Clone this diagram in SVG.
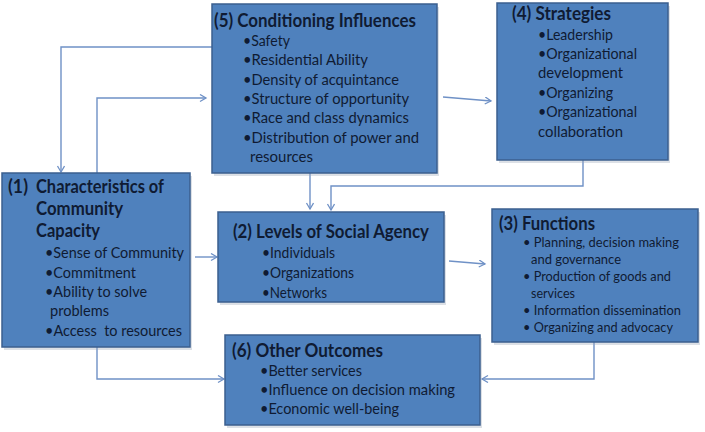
<svg xmlns="http://www.w3.org/2000/svg" width="705" height="432" viewBox="0 0 705 432">
<defs>
<style>
.box{fill:#4f81bd;stroke:#3b5f8f;stroke-width:1.5}
.sh{fill:#9aa6b8;opacity:0.35}
.t{font-family:Lato,"Liberation Sans",Arial,sans-serif;font-weight:bold;font-size:18px;fill:#0f1b33}
.b{font-family:Lato,"Liberation Sans",Arial,sans-serif;font-size:15px;fill:#0f1b33}
.s{font-family:Lato,"Liberation Sans",Arial,sans-serif;font-size:13.5px;fill:#0f1b33}
.c{fill:none;stroke:#6f91c6;stroke-width:1.4}
</style>
<marker id="a" markerUnits="userSpaceOnUse" markerWidth="10" markerHeight="10" refX="7" refY="4" orient="auto">
<path d="M1,0.5 L7,4 L1,7.5" fill="none" stroke="#6f91c6" stroke-width="1.3"/>
</marker>
</defs>
<rect width="705" height="432" fill="#ffffff"/>
<g id="connectors">
<path class="c" d="M212,47 H61 V172" marker-end="url(#a)"/>
<path class="c" d="M97,173 V98 H206" marker-end="url(#a)"/>
<path class="c" d="M443,97 L491,101" marker-end="url(#a)"/>
<path class="c" d="M310,173 V209" marker-end="url(#a)"/>
<path class="c" d="M583,160 V186 H331 V210" marker-end="url(#a)"/>
<path class="c" d="M195,257 H217" marker-end="url(#a)"/>
<path class="c" d="M449,261 L485,264" marker-end="url(#a)"/>
<path class="c" d="M97,347 V379 H224" marker-end="url(#a)"/>
<path class="c" d="M594,342 V379 H482" marker-end="url(#a)"/>
</g>
<g id="n5">
<rect class="sh" x="214" y="7" width="225" height="169"/>
<rect class="box" x="212" y="4" width="225" height="169"/>
<text class="t" x="214" y="27" textLength="202" lengthAdjust="spacingAndGlyphs">(5) Conditioning Influences</text>
<text class="b" x="243" y="46" textLength="47" lengthAdjust="spacingAndGlyphs">•Safety</text>
<text class="b" x="243" y="65" textLength="125" lengthAdjust="spacingAndGlyphs">•Residential Ability</text>
<text class="b" x="243" y="85" textLength="156" lengthAdjust="spacingAndGlyphs">•Density of acquintance</text>
<text class="b" x="243" y="104" textLength="166" lengthAdjust="spacingAndGlyphs">•Structure of opportunity</text>
<text class="b" x="243" y="123" textLength="166" lengthAdjust="spacingAndGlyphs">•Race and class dynamics</text>
<text class="b" x="243" y="143" textLength="176" lengthAdjust="spacingAndGlyphs">•Distribution of power and</text>
<text class="b" x="250" y="162" textLength="63" lengthAdjust="spacingAndGlyphs">resources</text>
</g>
<g id="n4">
<rect class="sh" x="499" y="6" width="171" height="157"/>
<rect class="box" x="497" y="3" width="171" height="157"/>
<text class="t" x="512" y="20" textLength="99" lengthAdjust="spacingAndGlyphs">(4) Strategies</text>
<text class="b" x="538" y="40" textLength="75" lengthAdjust="spacingAndGlyphs">•Leadership</text>
<text class="b" x="538" y="59" textLength="99" lengthAdjust="spacingAndGlyphs">•Organizational</text>
<text class="b" x="538" y="78" textLength="85" lengthAdjust="spacingAndGlyphs">development</text>
<text class="b" x="538" y="98" textLength="75" lengthAdjust="spacingAndGlyphs">•Organizing</text>
<text class="b" x="538" y="117" textLength="99" lengthAdjust="spacingAndGlyphs">•Organizational</text>
<text class="b" x="538" y="137" textLength="85" lengthAdjust="spacingAndGlyphs">collaboration</text>
</g>
<g id="n1">
<rect class="sh" x="4" y="176" width="188" height="174"/>
<rect class="box" x="2" y="173" width="188" height="174"/>
<text class="t" x="8" y="193" textLength="20" lengthAdjust="spacingAndGlyphs">(1)</text>
<text class="t" x="36" y="193" textLength="128" lengthAdjust="spacingAndGlyphs">Characteristics of</text>
<text class="t" x="36" y="215" textLength="87" lengthAdjust="spacingAndGlyphs">Community</text>
<text class="t" x="36" y="237" textLength="64" lengthAdjust="spacingAndGlyphs">Capacity</text>
<text class="b" x="45" y="258" textLength="139" lengthAdjust="spacingAndGlyphs">•Sense of Community</text>
<text class="b" x="45" y="278" textLength="91" lengthAdjust="spacingAndGlyphs">•Commitment</text>
<text class="b" x="45" y="297" textLength="102" lengthAdjust="spacingAndGlyphs">•Ability to solve</text>
<text class="b" x="50" y="316" textLength="59" lengthAdjust="spacingAndGlyphs">problems</text>
<text class="b" x="45" y="336" textLength="137" lengthAdjust="spacingAndGlyphs" xml:space="preserve">•Access  to resources</text>
</g>
<g id="n2">
<rect class="sh" x="220" y="215" width="226" height="90"/>
<rect class="box" x="218" y="212" width="226" height="90"/>
<text class="t" x="233" y="238" textLength="196" lengthAdjust="spacingAndGlyphs">(2) Levels of Social Agency</text>
<text class="b" x="262" y="258" textLength="73" lengthAdjust="spacingAndGlyphs">•Individuals</text>
<text class="b" x="262" y="278" textLength="92" lengthAdjust="spacingAndGlyphs">•Organizations</text>
<text class="b" x="262" y="298" textLength="65" lengthAdjust="spacingAndGlyphs">•Networks</text>
</g>
<g id="n3">
<rect class="sh" x="494" y="212" width="206" height="133"/>
<rect class="box" x="492" y="209" width="206" height="133"/>
<text class="t" x="499" y="230" textLength="96" lengthAdjust="spacingAndGlyphs">(3) Functions</text>
<text class="s" x="523" y="247" textLength="156" lengthAdjust="spacingAndGlyphs">• Planning, decision making</text>
<text class="s" x="531" y="264" textLength="90" lengthAdjust="spacingAndGlyphs">and governance</text>
<text class="s" x="523" y="281" textLength="148" lengthAdjust="spacingAndGlyphs">• Production of goods and</text>
<text class="s" x="531" y="298" textLength="44" lengthAdjust="spacingAndGlyphs">services</text>
<text class="s" x="523" y="315" textLength="158" lengthAdjust="spacingAndGlyphs">• Information dissemination</text>
<text class="s" x="523" y="332" textLength="150" lengthAdjust="spacingAndGlyphs">• Organizing and advocacy</text>
</g>
<g id="n6">
<rect class="sh" x="227" y="338" width="255" height="90"/>
<rect class="box" x="225" y="335" width="255" height="90"/>
<text class="t" x="232" y="357" textLength="151" lengthAdjust="spacingAndGlyphs">(6) Other Outcomes</text>
<text class="b" x="260" y="376" textLength="102" lengthAdjust="spacingAndGlyphs">•Better services</text>
<text class="b" x="260" y="395" textLength="195" lengthAdjust="spacingAndGlyphs">•Influence on decision making</text>
<text class="b" x="260" y="414" textLength="139" lengthAdjust="spacingAndGlyphs">•Economic well-being</text>
</g>
</svg>
